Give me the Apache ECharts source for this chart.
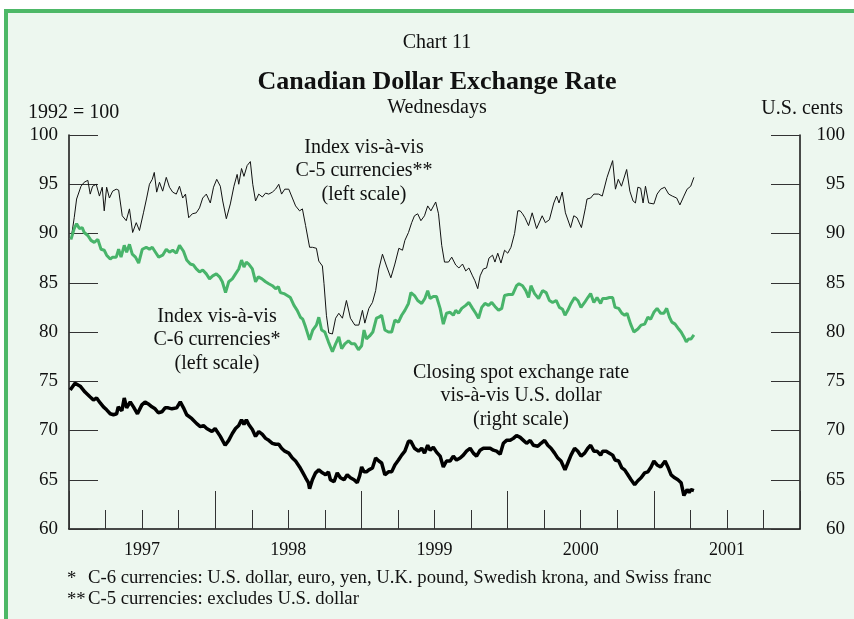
<!DOCTYPE html>
<html><head><meta charset="utf-8">
<script src="https://cdn.jsdelivr.net/npm/echarts@6/dist/echarts.min.js"></script>
<style>
html,body{margin:0;padding:0;background:#fff;}
#wrap{position:relative;width:854px;height:619px;overflow:hidden;}
#frame{position:absolute;left:4px;top:9px;width:850px;height:610px;box-sizing:border-box;background:#EDF7EF;border-top:4px solid #4DB867;border-left:4px solid #4DB867;}
#c{position:absolute;left:0;top:0;width:854px;height:619px;}
</style>
</head><body>
<div id="wrap"><div id="frame"></div><div id="c"></div></div>
<script>
// x = days since 1997-01-01 (weekly Wednesday observations), y = value
const yearLabels = ['1997', '1998', '1999', '2000', '2001'];
const yTicks = [60, 65, 70, 75, 80, 85, 90, 95, 100];

// Index vis-a-vis C-5 currencies (1992 = 100, left scale)
const c5Index = [[5,89.4],[13,91.6],[19,93.5],[30,94.8],[38,95.2],[47,95.4],[53,94.0],[59,94.8],[68,95.0],[76,93.8],
[83,94.7],[88,92.3],[94,94.7],[101,93.6],[109,94.3],[118,94.5],[124,94.4],[133,91.8],[143,91.3],[151,92.5],
[159,90.1],[168,91.1],[176,90.3],[186,92.1],[194,93.6],[201,95.0],[208,95.5],[213,96.2],[219,94.2],[226,95.2],
[234,94.3],[243,95.7],[251,94.7],[259,94.2],[268,94.0],[276,94.8],[284,93.6],[291,94.0],[299,91.6],[308,92.0],
[318,92.1],[326,92.6],[334,93.6],[343,94.0],[353,93.1],[361,94.7],[369,95.5],[378,94.8],[384,93.3],[393,91.5],
[403,93.0],[412,94.8],[420,96.0],[424,95.0],[431,96.6],[437,95.8],[445,96.9],[453,97.3],[459,95.0],[466,93.3],
[474,94.0],[483,93.7],[491,94.1],[499,94.0],[508,94.2],[516,94.5],[524,95.0],[531,94.0],[539,94.5],[549,94.5],
[558,93.6],[566,92.8],[576,92.3],[583,92.5],[591,90.8],[601,88.6],[608,88.6],[618,88.5],[624,87.2],[633,86.7],
[637,84.9],[643,81.7],[649,79.9],[658,79.8],[666,81.4],[674,81.9],[683,81.4],[693,83.2],[703,81.4],[714,80.7],
[724,80.7],[733,82.2],[739,80.9],[749,82.4],[758,83.0],[766,84.2],[774,86.4],[783,87.9],[793,86.7],[804,85.5],
[814,86.9],[824,88.5],[833,88.3],[839,89.3],[848,90.1],[856,91.1],[863,91.8],[871,92.0],[879,91.3],[888,91.8],
[896,92.8],[904,92.3],[916,93.2],[923,92.0],[931,88.8],[938,87.1],[948,87.1],[956,87.6],[966,86.8],[974,86.5],
[983,86.9],[991,86.2],[999,86.5],[1008,85.7],[1014,85.2],[1021,84.4],[1027,85.7],[1035,86.4],[1043,86.5],[1049,87.5],
[1058,87.8],[1064,87.1],[1071,88.0],[1079,87.0],[1088,88.3],[1096,88.0],[1104,88.6],[1113,90.0],[1121,92.3],[1127,92.3],
[1133,92.0],[1139,91.6],[1148,90.8],[1157,92.1],[1168,90.5],[1182,91.8],[1190,91.1],[1200,91.4],[1211,93.1],[1218,93.8],
[1224,93.1],[1232,94.2],[1240,92.1],[1253,90.6],[1261,91.8],[1269,91.6],[1280,90.6],[1290,92.6],[1294,93.5],[1303,93.6],
[1311,94.0],[1323,94.0],[1332,93.8],[1344,95.7],[1358,97.4],[1365,94.5],[1372,95.5],[1380,94.8],[1393,96.5],[1401,94.3],
[1409,93.3],[1415,93.1],[1421,94.7],[1428,94.6],[1434,93.1],[1440,94.8],[1448,93.1],[1461,93.0],[1469,94.0],[1478,94.5],
[1488,94.7],[1498,94.0],[1507,93.8],[1518,93.6],[1526,92.9],[1536,93.8],[1544,94.5],[1553,94.8],[1561,95.7]];

// Index vis-a-vis C-6 currencies (1992 = 100, left scale)
const c6Index = [[5,89.4],[13,90.5],[19,91.0],[26,90.5],[33,90.6],[38,90.1],[47,89.8],[55,89.3],[63,89.1],[72,89.4],
[80,88.4],[88,88.3],[94,87.8],[103,87.4],[109,87.6],[118,87.6],[124,88.4],[130,87.6],[138,88.8],[144,88.1],
[151,88.9],[158,87.9],[166,87.6],[174,87.0],[183,88.4],[193,88.6],[201,88.4],[208,88.6],[216,88.1],[224,87.6],
[234,87.8],[243,88.4],[251,88.1],[259,88.3],[268,88.0],[276,88.8],[280,89.0],[286,88.2],[294,87.3],[303,86.9],
[311,86.8],[318,86.4],[326,86.1],[334,86.3],[343,85.9],[351,85.4],[359,85.7],[368,85.9],[376,85.6],[383,85.1],
[391,84.0],[399,85.1],[408,85.4],[416,85.9],[424,86.4],[431,87.3],[437,86.6],[443,87.1],[449,86.9],[458,86.4],
[466,85.1],[473,85.6],[482,85.4],[491,85.1],[499,84.9],[508,84.7],[516,84.4],[523,84.6],[528,84.0],[537,83.9],
[545,83.7],[553,83.5],[562,82.7],[570,82.2],[578,81.5],[584,81.3],[591,80.5],[601,79.2],[609,80.2],[618,80.7],
[624,81.5],[631,80.2],[639,80.0],[648,79.0],[658,78.0],[666,78.8],[674,79.5],[681,78.3],[689,78.8],[698,79.1],
[706,78.8],[714,78.8],[723,78.2],[731,78.6],[737,80.2],[743,79.3],[751,79.6],[759,80.0],[768,81.4],[774,81.5],
[781,81.7],[789,80.2],[798,80.0],[806,80.0],[814,81.2],[823,81.0],[831,81.7],[839,82.2],[848,82.9],[854,84.0],
[863,83.7],[871,83.2],[881,82.9],[889,83.4],[896,84.2],[902,83.4],[910,83.6],[918,83.6],[927,82.4],[935,80.8],
[943,81.9],[952,82.0],[960,81.7],[966,82.2],[973,81.9],[981,82.4],[991,82.7],[999,83.0],[1008,82.4],[1016,81.9],
[1023,81.4],[1031,82.5],[1039,82.9],[1048,82.7],[1056,83.0],[1064,82.6],[1073,82.2],[1081,82.4],[1088,83.7],[1098,83.8],
[1108,83.8],[1118,84.7],[1124,84.9],[1133,84.7],[1141,84.2],[1148,83.5],[1154,84.7],[1163,83.9],[1173,83.4],[1183,84.2],
[1192,84.0],[1200,83.2],[1208,83.0],[1217,83.2],[1225,82.5],[1233,82.3],[1239,81.7],[1246,82.2],[1254,82.9],[1263,83.5],
[1271,83.2],[1279,82.5],[1288,83.0],[1296,83.5],[1303,83.9],[1311,83.0],[1319,83.5],[1328,82.9],[1333,83.4],[1342,83.4],
[1350,83.5],[1358,83.5],[1364,82.5],[1373,82.4],[1381,81.9],[1388,81.7],[1394,81.9],[1403,80.8],[1411,80.0],[1421,80.3],
[1429,80.7],[1438,80.8],[1446,81.5],[1453,81.3],[1461,82.0],[1469,82.4],[1478,81.9],[1486,81.9],[1493,82.4],[1500,81.5],
[1506,81.0],[1514,80.8],[1523,80.3],[1529,80.0],[1536,79.5],[1542,79.0],[1548,79.3],[1554,79.3],[1561,79.7]];

// Closing spot exchange rate vis-a-vis U.S. dollar (U.S. cents, right scale)
const spotRate = [[3,74.1],[15,74.8],[28,74.5],[40,73.9],[53,73.4],[61,73.1],[69,73.3],[78,72.8],[86,72.4],[94,72.1],
[103,71.7],[111,71.6],[119,71.7],[123,72.4],[132,72.0],[138,73.3],[144,72.3],[153,72.9],[161,72.4],[171,71.7],
[182,72.6],[190,72.9],[198,72.7],[207,72.4],[215,72.2],[223,71.8],[232,71.9],[240,72.3],[248,72.3],[257,72.2],
[269,72.3],[278,72.9],[286,72.3],[294,71.6],[307,71.2],[319,70.7],[328,70.4],[336,70.5],[344,70.2],[357,69.9],
[365,70.2],[378,69.4],[390,68.5],[399,69.0],[408,69.7],[416,70.2],[424,70.5],[431,71.1],[437,70.6],[443,71.1],
[449,70.6],[458,70.1],[466,69.4],[474,69.9],[483,69.6],[491,69.2],[499,69.0],[508,68.7],[516,68.6],[524,68.6],
[531,68.2],[539,67.9],[549,67.7],[558,67.2],[566,66.9],[576,66.3],[583,65.8],[591,65.2],[598,64.7],[601,64.1],
[608,65.0],[616,65.7],[624,66.0],[633,65.7],[641,65.5],[648,65.8],[653,65.0],[662,64.8],[670,65.7],[678,65.2],
[687,65.0],[695,65.5],[703,65.2],[712,65.0],[720,64.7],[726,65.4],[731,66.3],[737,65.8],[743,65.8],[749,66.0],
[758,66.2],[766,67.2],[774,66.9],[781,66.7],[789,65.5],[798,65.8],[806,65.8],[814,66.5],[823,67.0],[831,67.5],
[839,67.9],[848,68.9],[854,68.9],[863,68.2],[873,67.9],[881,68.2],[888,67.7],[896,68.5],[902,68.0],[910,68.3],
[918,67.8],[927,67.4],[935,66.3],[943,66.9],[952,66.9],[960,67.4],[968,67.0],[977,67.2],[985,67.5],[993,67.9],
[1002,68.2],[1010,67.7],[1018,67.4],[1027,68.0],[1035,68.2],[1043,68.2],[1052,68.2],[1060,68.0],[1068,67.9],[1077,67.6],
[1085,68.7],[1093,69.0],[1102,69.0],[1110,69.2],[1118,69.5],[1127,69.3],[1135,69.0],[1143,68.7],[1152,69.0],[1160,68.5],
[1171,68.4],[1179,68.7],[1188,69.0],[1196,68.5],[1204,68.2],[1213,67.7],[1221,67.2],[1229,66.9],[1239,66.0],[1246,66.7],
[1254,67.5],[1263,68.2],[1271,67.9],[1279,67.4],[1288,67.7],[1296,68.2],[1303,68.5],[1311,67.9],[1319,67.9],[1328,67.5],
[1333,67.9],[1342,67.9],[1350,67.7],[1358,67.5],[1364,67.0],[1373,66.9],[1381,66.2],[1388,66.0],[1396,65.5],[1404,65.0],
[1413,64.5],[1421,64.9],[1429,65.2],[1438,65.7],[1446,65.8],[1454,66.3],[1461,66.9],[1469,66.5],[1478,66.3],[1489,66.9],
[1496,66.3],[1504,65.5],[1513,65.2],[1521,65.0],[1529,64.7],[1536,63.4],[1544,64.0],[1549,63.7],[1554,64.0],[1561,63.9]];

const SERIF = '"Liberation Serif", "Times New Roman", serif';
const YEAR = 365.2;
const chart = echarts.init(document.getElementById('c'), null, {renderer: 'canvas'});

const yAxisCommon = {
  type: 'value', min: yTicks[0], max: yTicks[yTicks.length - 1], interval: 5,
  axisLine: {show: true, onZero: false, lineStyle: {color: '#111', width: 1.5}},
  axisTick: {show: true, inside: true, length: 29, lineStyle: {color: '#333', width: 1}},
  splitLine: {show: false},
  axisLabel: {fontFamily: SERIF, fontSize: 19, color: '#111'}
};

function txt(text, x, y, size, align, bold) {
  return {type: 'text', x: x, y: y, silent: true, z: 100,
    style: {text: text, x: 0, y: 0, fill: '#111',
      font: (bold ? 'bold ' : '') + size + 'px ' + SERIF,
      align: align, textAlign: align, verticalAlign: 'middle', textVerticalAlign: 'middle', lineHeight: 23.5}};
}

chart.setOption({
  animation: false,
  backgroundColor: 'transparent',
  grid: {left: 69, right: 54, top: 135, bottom: 90, containLabel: false},
  xAxis: [
    {type: 'value', min: 0, max: 5 * YEAR, interval: YEAR, position: 'bottom',
     axisLine: {show: true, onZero: false, lineStyle: {color: '#111', width: 1.5}},
     axisTick: {show: true, inside: true, length: 38, lineStyle: {color: '#333', width: 1}},
     minorTick: {show: true, splitNumber: 4, length: 19, lineStyle: {color: '#333', width: 1}},
     axisLabel: {show: false}, splitLine: {show: false}, minorSplitLine: {show: false}},
    {type: 'value', min: 0, max: 5 * YEAR, interval: YEAR / 2, position: 'bottom',
     axisLine: {show: false, onZero: false}, axisTick: {show: false}, splitLine: {show: false},
     axisLabel: {show: true, margin: 12, fontFamily: SERIF, fontSize: 18, color: '#111',
       formatter: function (v) { const i = Math.round(v / (YEAR / 2)); return i % 2 === 1 ? yearLabels[(i - 1) / 2] : ''; }}}
  ],
  yAxis: [
    Object.assign({}, yAxisCommon, {position: 'left', axisLabel: Object.assign({}, yAxisCommon.axisLabel, {margin: 11})}),
    Object.assign({}, yAxisCommon, {position: 'right', axisLabel: Object.assign({}, yAxisCommon.axisLabel, {margin: 45, align: 'right'})})
  ],
  series: [
    {name: 'C-5', type: 'line', xAxisIndex: 0, yAxisIndex: 0, data: c5Index, showSymbol: false, symbol: 'none',
     lineStyle: {color: '#111', width: 1}, z: 3},
    {name: 'C-6', type: 'line', xAxisIndex: 0, yAxisIndex: 0, data: c6Index, showSymbol: false, symbol: 'none',
     lineStyle: {color: '#48B46A', width: 3}, z: 4},
    {name: 'Spot', type: 'line', xAxisIndex: 0, yAxisIndex: 1, data: spotRate, showSymbol: false, symbol: 'none',
     lineStyle: {color: '#000', width: 3.5}, z: 5}
  ],
  graphic: [
    txt('Chart 11', 437, 43, 20, 'center'),
    txt('Canadian Dollar Exchange Rate', 437, 82, 26, 'center', true),
    txt('Wednesdays', 437, 108, 20, 'center'),
    txt('1992 = 100', 28, 113, 20, 'left'),
    txt('U.S. cents', 843, 109, 20, 'right'),
    txt('Index vis-à-vis\nC-5 currencies**\n(left scale)', 364, 171, 20, 'center'),
    txt('Index vis-à-vis\nC-6 currencies*\n(left scale)', 217, 340, 20, 'center'),
    txt('Closing spot exchange rate\nvis-à-vis U.S. dollar\n(right scale)', 521, 396, 20, 'center'),
    txt('*', 67, 579, 18.7, 'left'),
    txt('C-6 currencies: U.S. dollar, euro, yen, U.K. pound, Swedish krona, and Swiss franc', 88, 578, 18.7, 'left'),
    txt('**', 67, 600, 18.7, 'left'),
    txt('C-5 currencies: excludes U.S. dollar', 88, 599, 18.7, 'left')
  ]
});
</script>
</body></html>
